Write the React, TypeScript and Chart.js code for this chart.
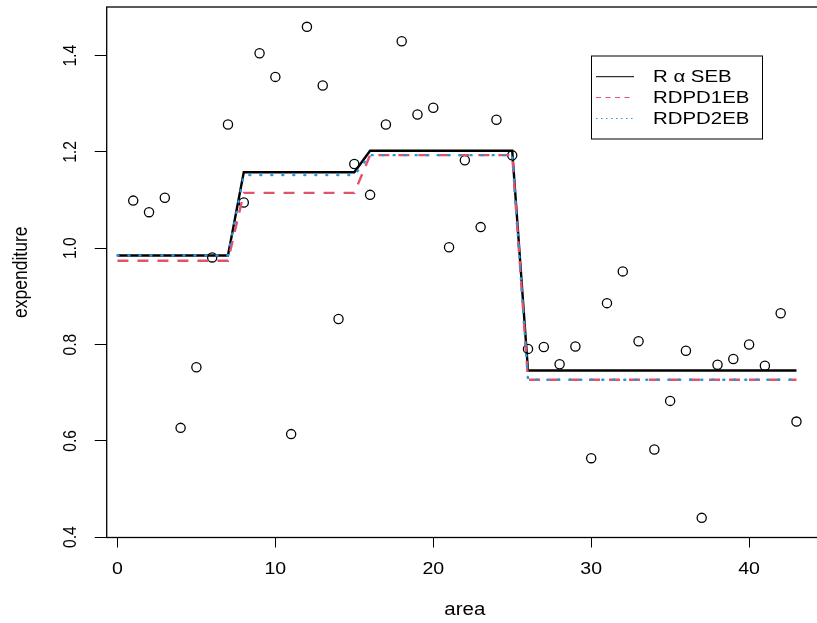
import { useEffect, useRef } from "react";
import { Chart, registerables } from "chart.js";

Chart.register(...registerables);

// ---- data ----
const areas = [1, 2, 3, 4, 5, 6, 7, 8, 9, 10, 11, 12, 13, 14, 15, 16, 17, 18, 19, 20, 21, 22, 23, 24, 25, 26, 27, 28, 29, 30, 31, 32, 33, 34, 35, 36, 37, 38, 39, 40, 41, 42, 43];
const expenditure = [1.099, 1.075, 1.105, 0.627, 0.753, 0.981, 1.257, 1.095, 1.405, 1.356, 0.614, 1.46, 1.338, 0.853, 1.175, 1.111, 1.257, 1.43, 1.278, 1.292, 1.002, 1.183, 1.044, 1.267, 1.193, 0.791, 0.795, 0.759, 0.796, 0.564, 0.886, 0.952, 0.807, 0.582, 0.683, 0.787, 0.44, 0.758, 0.77, 0.8, 0.756, 0.865, 0.64];

const lineAreas = [0, 1, 2, 3, 4, 5, 6, 7, 8, 9, 10, 11, 12, 13, 14, 15, 16, 17, 18, 19, 20, 21, 22, 23, 24, 25, 26, 27, 28, 29, 30, 31, 32, 33, 34, 35, 36, 37, 38, 39, 40, 41, 42, 43];
const rasebValues = [
  0.985, 0.985, 0.985, 0.985, 0.985, 0.985, 0.985, 0.985,
  1.158, 1.158, 1.158, 1.158, 1.158, 1.158, 1.158, 1.158,
  1.2025, 1.2025, 1.2025, 1.2025, 1.2025, 1.2025, 1.2025, 1.2025, 1.2025, 1.2025,
  0.746, 0.746, 0.746, 0.746, 0.746, 0.746, 0.746, 0.746, 0.746, 0.746, 0.746, 0.746, 0.746, 0.746, 0.746, 0.746, 0.746, 0.746,
];
const rdpd1Values = [
  0.974, 0.974, 0.974, 0.974, 0.974, 0.974, 0.974, 0.974,
  1.115, 1.115, 1.115, 1.115, 1.115, 1.115, 1.115, 1.115,
  1.1935, 1.1935, 1.1935, 1.1935, 1.1935, 1.1935, 1.1935, 1.1935, 1.1935, 1.1935,
  0.727, 0.727, 0.727, 0.727, 0.727, 0.727, 0.727, 0.727, 0.727, 0.727, 0.727, 0.727, 0.727, 0.727, 0.727, 0.727, 0.727, 0.727,
];
const rdpd2Values = [
  0.985, 0.985, 0.985, 0.985, 0.985, 0.985, 0.985, 0.985,
  1.152, 1.152, 1.152, 1.152, 1.152, 1.152, 1.152, 1.152,
  1.1935, 1.1935, 1.1935, 1.1935, 1.1935, 1.1935, 1.1935, 1.1935, 1.1935, 1.1935,
  0.727, 0.727, 0.727, 0.727, 0.727, 0.727, 0.727, 0.727, 0.727, 0.727, 0.727, 0.727, 0.727, 0.727, 0.727, 0.727, 0.727, 0.727,
];

const xTicks = [0, 10, 20, 30, 40];
const yTicks = [0.4, 0.6, 0.8, 1.0, 1.2, 1.4];
const legendLabels = ["R \u03B1 SEB", "RDPD1EB", "RDPD2EB"];
const xTitle = "area";
const yTitle = "expenditure";

const FONT = '"Liberation Sans", Arial, Helvetica, sans-serif';
const RED = "#DF536B";
const BLUE = "#2297E6";

function stretchedText(ctx: CanvasRenderingContext2D, text: string, x: number, y: number, sx: number, rotate: boolean) {
  ctx.save();
  ctx.translate(x, y);
  ctx.scale(sx, 1);
  if (rotate) ctx.rotate(-Math.PI / 2);
  ctx.fillText(text, 0, 0);
  ctx.restore();
}

const rStylePlugin = {
  id: "rStyle",
  afterDraw(chart: any) {
    const { ctx, chartArea: ca } = chart;
    const x = chart.scales.x;
    const y = chart.scales.y;
    ctx.save();
    // box
    ctx.strokeStyle = "#000";
    ctx.lineWidth = 1.3;
    ctx.setLineDash([]);
    ctx.strokeRect(ca.left, ca.top, ca.right - ca.left, ca.bottom - ca.top);

    ctx.fillStyle = "#000";
    ctx.textAlign = "center";
    ctx.textBaseline = "middle";
    // x tick labels
    ctx.font = `17px ${FONT}`;
    x.ticks.forEach((t: any) => {
      stretchedText(ctx, String(t.value), x.getPixelForValue(t.value), ca.bottom + 32, 1.15, false);
    });
    // y tick labels (rotated)
    ctx.font = `15.6px ${FONT}`;
    y.ticks.forEach((t: any) => {
      const py = y.getPixelForValue(t.value);
      stretchedText(ctx, Number(t.value).toFixed(1), ca.left - 36, py, 1.2, true);
    });
    // axis titles
    ctx.font = `17.5px ${FONT}`;
    stretchedText(ctx, xTitle, (ca.left + ca.right) / 2, ca.bottom + 73, 1.17, false);
    stretchedText(ctx, yTitle, 21.5, (ca.top + ca.bottom) / 2, 1.2, true);

    // legend
    const bx = 591, by = 55.5, bw = 171, bh = 83;
    ctx.fillStyle = "#fff";
    ctx.fillRect(bx, by, bw, bh);
    ctx.strokeStyle = "#000";
    ctx.lineWidth = 1;
    ctx.strokeRect(bx + 0.5, by + 0.5, bw, bh);
    const rows = [76.7, 97.5, 118.5];
    const styles = [
      { color: "#000", dash: [] as number[] },
      { color: RED, dash: [5, 4.5] },
      { color: BLUE, dash: [1.5, 3.5] },
    ];
    ctx.font = `17px ${FONT}`;
    ctx.textAlign = "left";
    rows.forEach((ry, i) => {
      ctx.beginPath();
      ctx.strokeStyle = styles[i].color;
      ctx.setLineDash(styles[i].dash);
      ctx.lineWidth = 1;
      ctx.moveTo(596, ry);
      ctx.lineTo(634, ry);
      ctx.stroke();
      ctx.setLineDash([]);
      ctx.fillStyle = "#000";
      stretchedText(ctx, legendLabels[i], 653, ry + 0.5, 1.2, false);
    });
    ctx.restore();
  },
};

export default function App() {
  const canvasRef = useRef<HTMLCanvasElement | null>(null);

  useEffect(() => {
    if (!canvasRef.current) return;
    const pts = areas.map((a, i) => ({ x: a, y: expenditure[i] }));
    const l0 = lineAreas.map((a, i) => ({ x: a, y: rasebValues[i] }));
    const l1 = lineAreas.map((a, i) => ({ x: a, y: rdpd1Values[i] }));
    const l2 = lineAreas.map((a, i) => ({ x: a, y: rdpd2Values[i] }));

    const chart = new Chart(canvasRef.current, {
      type: "line",
      data: {
        datasets: [
          {
            label: "expenditure",
            data: pts,
            showLine: false,
            pointStyle: "circle",
            pointRadius: 4.6,
            pointBorderWidth: 1.3,
            pointBorderColor: "#000",
            pointBackgroundColor: "rgba(0,0,0,0)",
            order: 4,
          },
          {
            label: legendLabels[0],
            data: l0,
            borderColor: "#000",
            borderWidth: 2.4,
            pointRadius: 0,
            tension: 0,
            order: 3,
          },
          {
            label: legendLabels[1],
            data: l1,
            borderColor: RED,
            borderWidth: 2.4,
            borderDash: [11, 9],
            pointRadius: 0,
            tension: 0,
            order: 2,
          },
          {
            label: legendLabels[2],
            data: l2,
            borderColor: BLUE,
            borderWidth: 2.4,
            borderDash: [1, 10],
            borderCapStyle: "round",
            pointRadius: 0,
            tension: 0,
            order: 1,
          },
        ] as any,
      },
      options: {
        animation: false,
        responsive: false,
        maintainAspectRatio: false,
        layout: { padding: { left: 0, top: 7, right: 17, bottom: 0 } },
        plugins: {
          legend: { display: false },
          tooltip: { enabled: false },
        },
        scales: {
          x: {
            type: "linear",
            min: -0.68,
            max: 44.68,
            afterBuildTicks: (s: any) => {
              s.ticks = xTicks.map((v) => ({ value: v }));
            },
            afterFit: (s: any) => {
              s.height = 85.5;
            },
            ticks: { display: false },
            grid: {
              display: true,
              drawOnChartArea: false,
              drawTicks: true,
              tickLength: 10,
              color: "#000",
              lineWidth: 1,
            },
            border: { display: false },
          },
          y: {
            type: "linear",
            min: 0.3992,
            max: 1.5012,
            afterBuildTicks: (s: any) => {
              s.ticks = yTicks.map((v) => ({ value: v }));
            },
            afterFit: (s: any) => {
              s.width = 106.7;
            },
            ticks: { display: false },
            grid: {
              display: true,
              drawOnChartArea: false,
              drawTicks: true,
              tickLength: 12,
              color: "#000",
              lineWidth: 1,
            },
            border: { display: false },
          },
        },
      } as any,
      plugins: [rStylePlugin],
    });
    return () => chart.destroy();
  }, []);

  return (
    <div
      style={{
        position: "absolute",
        left: 0,
        top: 0,
        width: 817,
        height: 623,
        overflow: "hidden",
        background: "#fff",
      }}
    >
      <canvas ref={canvasRef} width={840} height={623} style={{ display: "block" }} />
    </div>
  );
}
